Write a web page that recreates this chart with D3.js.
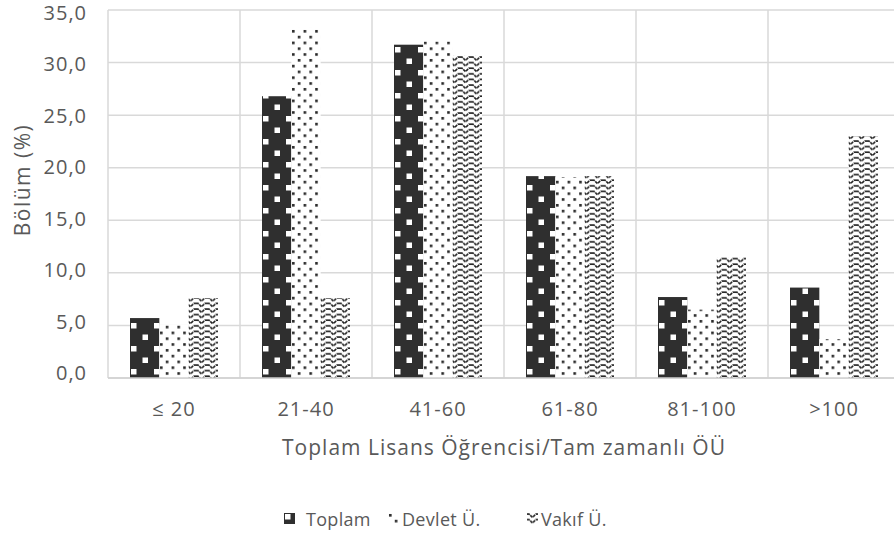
<!DOCTYPE html>
<html>
<head>
<meta charset="utf-8">
<script src="https://cdn.jsdelivr.net/npm/d3@7"></script>
<style>
  body { margin: 0; background: #fff; }
  svg text { font-family: "Open Sans", sans-serif; fill: #595959; }
</style>
</head>
<body>
<div id="chart"></div>
<script>
// Daten
const categories = ["≤ 20", "21-40", "41-60", "61-80", "81-100", ">100"];
const seriesNames = ["Toplam", "Devlet Ü.", "Vakıf Ü."];
const toplam = [5.7, 26.8, 31.7, 19.2, 7.7, 8.6];
const devlet = [5.1, 33.3, 32.0, 19.1, 6.5, 3.7];
const vakif = [7.6, 7.6, 30.7, 19.2, 11.5, 23.0];
const yTicks = [0, 5, 10, 15, 20, 25, 30, 35];

const width = 894, height = 538;
const margin = { top: 10, right: -6, bottom: 160, left: 108 };

const svg = d3.select("#chart").append("svg")
    .attr("width", width)
    .attr("height", height);

// Muster
const defs = svg.append("defs");

const pT = defs.append("pattern")
    .attr("id", "p-toplam")
    .attr("patternUnits", "userSpaceOnUse")
    .attr("width", 23).attr("height", 23);
pT.append("rect").attr("width", 23).attr("height", 23).attr("fill", "#2f2f2f");
pT.append("rect").attr("x", 1).attr("y", 1).attr("width", 5.5).attr("height", 5.5).attr("fill", "#fff");
pT.append("rect").attr("x", 12.5).attr("y", 12.5).attr("width", 5.5).attr("height", 5.5).attr("fill", "#fff");

const pD = defs.append("pattern")
    .attr("id", "p-devlet")
    .attr("patternUnits", "userSpaceOnUse")
    .attr("width", 11.6).attr("height", 11.6);
pD.append("rect").attr("width", 11.6).attr("height", 11.6).attr("fill", "#fff");
pD.append("rect").attr("x", 1).attr("y", 1).attr("width", 2.6).attr("height", 2.6).attr("fill", "#262626");
pD.append("rect").attr("x", 6.8).attr("y", 6.8).attr("width", 2.6).attr("height", 2.6).attr("fill", "#262626");

const pV = defs.append("pattern")
    .attr("id", "p-vakif")
    .attr("patternUnits", "userSpaceOnUse")
    .attr("width", 11).attr("height", 5.6);
pV.append("rect").attr("width", 11).attr("height", 5.6).attr("fill", "#fff");
pV.append("path")
    .attr("d", "M0,1 L2,1 L5.5,4.4 L9,1 L11,1")
    .attr("fill", "none")
    .attr("stroke", "#222")
    .attr("stroke-width", 1.6)
    .attr("stroke-dasharray", "3,0.8");

const fills = ["url(#p-toplam)", "url(#p-devlet)", "url(#p-vakif)"];

// Skalen
const x0 = d3.scaleBand()
    .domain(categories)
    .range([margin.left, width - margin.right])
    .paddingInner(1 / 3)
    .paddingOuter(1 / 6);

const x1 = d3.scaleBand()
    .domain(seriesNames)
    .range([0, x0.bandwidth()])
    .padding(0);

const y = d3.scaleLinear()
    .domain([0, 35])
    .range([height - margin.bottom, margin.top]);

// Beschriftungspositionen der Y-Achse (leicht gestaucht wie im Original)
const yLabel = d3.scaleLinear()
    .domain([0, 35])
    .range([380, 20]);

// Gitterlinien
svg.append("g")
    .selectAll("line")
    .data(yTicks)
    .join("line")
    .attr("x1", margin.left)
    .attr("x2", width - margin.right)
    .attr("y1", d => y(d))
    .attr("y2", d => y(d))
    .attr("stroke", "#d9d9d9")
    .attr("stroke-width", 1.5);

const step = x0.step();
svg.append("g")
    .selectAll("line")
    .data(categories)
    .join("line")
    .attr("x1", d => x0(d) - x0.paddingInner() * step / 2)
    .attr("x2", d => x0(d) - x0.paddingInner() * step / 2)
    .attr("y1", y(35))
    .attr("y2", y(0))
    .attr("stroke", "#d9d9d9")
    .attr("stroke-width", 1.5);

// Balken
const rows = categories.map((c, i) => ({
    cat: c,
    vals: [toplam[i], devlet[i], vakif[i]]
}));

const groups = svg.append("g")
    .selectAll("g")
    .data(rows)
    .join("g")
    .attr("transform", d => `translate(${x0(d.cat)},0)`);

groups.selectAll("rect")
    .data(d => d.vals.map((v, j) => ({ name: seriesNames[j], v, j })))
    .join("rect")
    .attr("x", d => x1(d.name))
    .attr("y", d => y(d.v))
    .attr("width", x1.bandwidth())
    .attr("height", d => y(0) - y(d.v))
    .attr("fill", d => fills[d.j]);

// Grundlinie
svg.append("line")
    .attr("x1", margin.left)
    .attr("x2", width - margin.right)
    .attr("y1", y(0))
    .attr("y2", y(0))
    .attr("stroke", "#d0d0d0")
    .attr("stroke-width", 1.5);

// Y-Achse Beschriftung
svg.append("g")
    .selectAll("text")
    .data(yTicks)
    .join("text")
    .attr("x", 87)
    .attr("y", d => yLabel(d))
    .attr("text-anchor", "end")
    .style("font-size", "20px")
    .style("letter-spacing", "1px")
    .text(d => d3.format(".1f")(d).replace(".", ","));

// X-Achse Beschriftung
svg.append("g")
    .selectAll("text")
    .data(categories)
    .join("text")
    .attr("x", d => x0(d) + x0.bandwidth() / 2)
    .attr("y", 416)
    .attr("text-anchor", "middle")
    .style("font-size", "20px")
    .style("letter-spacing", "1px")
    .text(d => d);

svg.append("text")
    .attr("x", (margin.left + width - margin.right) / 2)
    .attr("y", 455)
    .attr("text-anchor", "middle")
    .style("font-size", "21px")
    .style("letter-spacing", "1px")
    .text("Toplam Lisans Öğrencisi/Tam zamanlı ÖÜ");

svg.append("text")
    .attr("transform", "translate(30,180) rotate(-90)")
    .attr("text-anchor", "middle")
    .style("font-size", "21px")
    .style("letter-spacing", "1.5px")
    .text("Bölüm (%)");

// Legende
const legendX = [284, 388, 527];
const legend = svg.append("g");
seriesNames.forEach((name, i) => {
    const item = legend.append("g")
        .attr("transform", `translate(${legendX[i]},513)`);
    item.append("rect")
        .attr("width", 11)
        .attr("height", 11)
        .attr("fill", fills[i]);
    item.append("text")
        .attr("x", i === 0 ? 22 : 14)
        .attr("y", 12.5)
        .style("font-size", "18px")
        .style("letter-spacing", "0.3px")
        .text(name);
});
</script>
</body>
</html>
